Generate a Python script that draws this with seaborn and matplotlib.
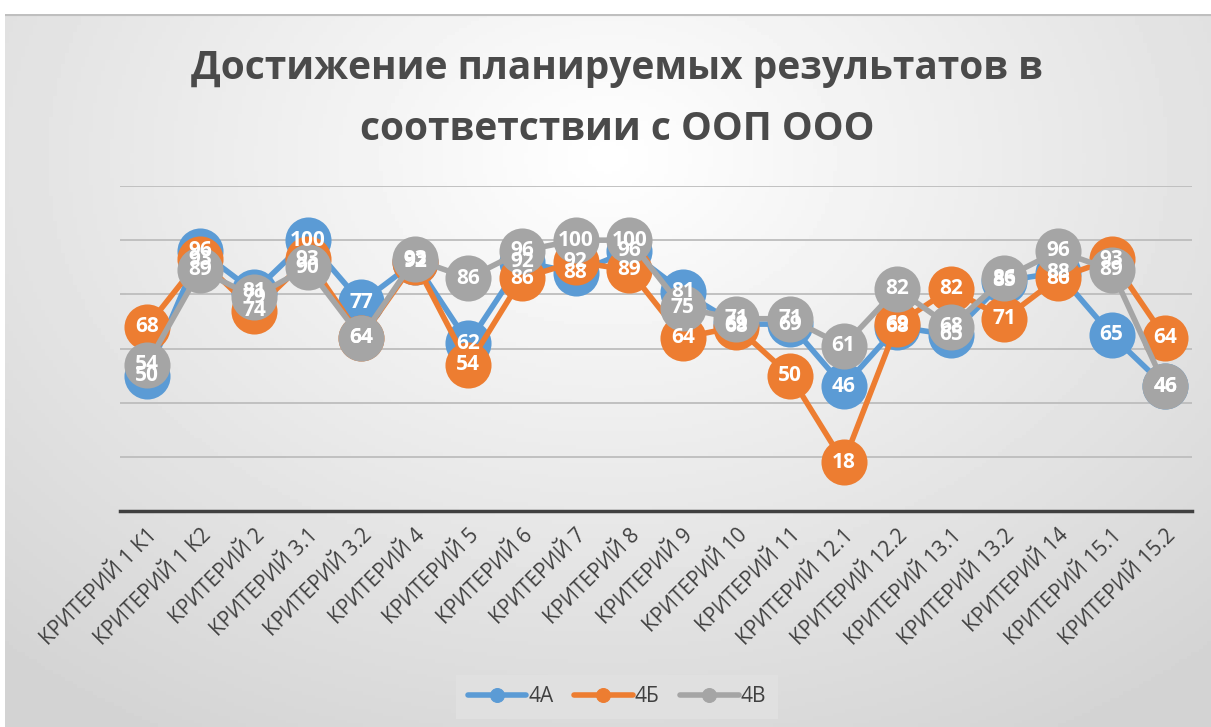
import numpy as np
import pandas as pd
import matplotlib.pyplot as plt
import seaborn as sns

# -----------------------------
# Data
# -----------------------------
criteria = ["КРИТЕРИЙ 1 К1", "КРИТЕРИЙ 1 К2", "КРИТЕРИЙ 2", "КРИТЕРИЙ 3.1",
            "КРИТЕРИЙ 3.2", "КРИТЕРИЙ 4", "КРИТЕРИЙ 5", "КРИТЕРИЙ 6",
            "КРИТЕРИЙ 7", "КРИТЕРИЙ 8", "КРИТЕРИЙ 9", "КРИТЕРИЙ 10",
            "КРИТЕРИЙ 11", "КРИТЕРИЙ 12.1", "КРИТЕРИЙ 12.2", "КРИТЕРИЙ 13.1",
            "КРИТЕРИЙ 13.2", "КРИТЕРИЙ 14", "КРИТЕРИЙ 15.1", "КРИТЕРИЙ 15.2"]
class_4a = [50, 96, 81, 100, 77, 92, 62, 92, 88, 96, 81, 69, 69, 46, 68, 65, 85, 88, 65, 46]
class_4b = [68, 93, 74, 93, 64, 92, 54, 86, 92, 89, 64, 68, 50, 18, 69, 82, 71, 86, 93, 64]
class_4v = [54, 89, 79, 90, 64, 93, 86, 96, 100, 100, 75, 71, 71, 61, 82, 68, 86, 96, 89, 46]

series = {"4А": class_4a, "4Б": class_4b, "4В": class_4v}
colors = {"4А": "#5B9BD5", "4Б": "#ED7D31", "4В": "#A5A5A5"}

df = pd.DataFrame({"pos": np.arange(len(criteria))})

sns.set_style("white")
plt.rcParams["font.family"] = ["Open Sans", "DejaVu Sans"]

fig = plt.figure(figsize=(12.11, 7.27), dpi=100)
fig.patch.set_facecolor("white")

# -----------------------------
# Gradient background
# -----------------------------
bg = fig.add_axes([5 / 1211, 0, 1 - 5 / 1211, (727 - 14) / 727])
yy, xx = np.mgrid[-1:1:200j, -1:1:300j]
r = np.sqrt(xx ** 2 + ((yy + 0.6) * 0.8) ** 2)
bg.imshow(1 - 0.17 * np.clip(r, 0, 1.5) / 1.5, cmap="gray", vmin=0, vmax=1,
          aspect="auto", extent=[0, 1, 0, 1])
bg.plot([0, 1], [1, 1], color="#BFBFBF", lw=3)
bg.set_xlim(0, 1)
bg.set_ylim(0, 1)
bg.axis("off")

# -----------------------------
# Main chart
# -----------------------------
ax = fig.add_axes([120 / 1211, 1 - 511 / 727, 1072 / 1211, (511 - 186) / 727])
ax.patch.set_alpha(0)

for k, (name, vals) in enumerate(series.items()):
    df[name] = vals
    sns.lineplot(data=df, x="pos", y=name, ax=ax, color=colors[name], lw=4.5,
                 marker="o", markersize=9, mec=colors[name], label=name,
                 zorder=3 + 2 * k)
    sns.scatterplot(data=df, x="pos", y=name, ax=ax, color=colors[name],
                    s=1100, linewidth=0, zorder=4 + 2 * k, legend=False)

for name, vals in series.items():
    for i, v in enumerate(vals):
        ax.annotate(str(v), (i, v), ha="center", va="center", color="white",
                    fontsize=15, fontweight="bold", zorder=20)

ax.set_xlim(-0.5, len(criteria) - 0.5)
ax.set_ylim(0, 120)
ax.set_yticks(np.arange(0, 121, 20))
ax.yaxis.grid(True, color="#BDBDBD", lw=1.3)
ax.set_yticklabels([])
ax.tick_params(axis="y", length=0)
ax.set_xticks(df["pos"])
ax.set_xticklabels(criteria, rotation=45, ha="right", rotation_mode="anchor",
                   fontsize=15, color="#404040")
ax.tick_params(axis="x", length=0, pad=10)
ax.set_xlabel("")
ax.set_ylabel("")
for side in ["top", "right", "left"]:
    ax.spines[side].set_visible(False)
ax.spines["bottom"].set_color("#404040")
ax.spines["bottom"].set_linewidth(2.5)
ax.spines["bottom"].set_zorder(2)

handles, labels = ax.get_legend_handles_labels()
for h in handles:
    h.set_markersize(10)
    h.set_linewidth(4)
leg = fig.legend(handles, labels, loc="center", bbox_to_anchor=(617 / 1211, 1 - 697 / 727),
                 ncol=3, frameon=True, fontsize=15, handlelength=2.8,
                 columnspacing=1.0, handletextpad=0.1, borderpad=0.55)
leg.get_frame().set_facecolor("#E0E0E0")
leg.get_frame().set_edgecolor("none")
leg.get_frame().set_alpha(1)
leg.get_frame().set_boxstyle("square", pad=0)
for t in leg.get_texts():
    t.set_color("#404040")
ax.get_legend().remove()

fig.text(617 / 1211, 1 - 99 / 727,
         "Достижение планируемых результатов в\nсоответствии с ООП ООО",
         ha="center", va="center", fontsize=28, fontweight="bold",
         color="#4A4A4A", linespacing=1.75)

plt.savefig("out.png", dpi=100)
